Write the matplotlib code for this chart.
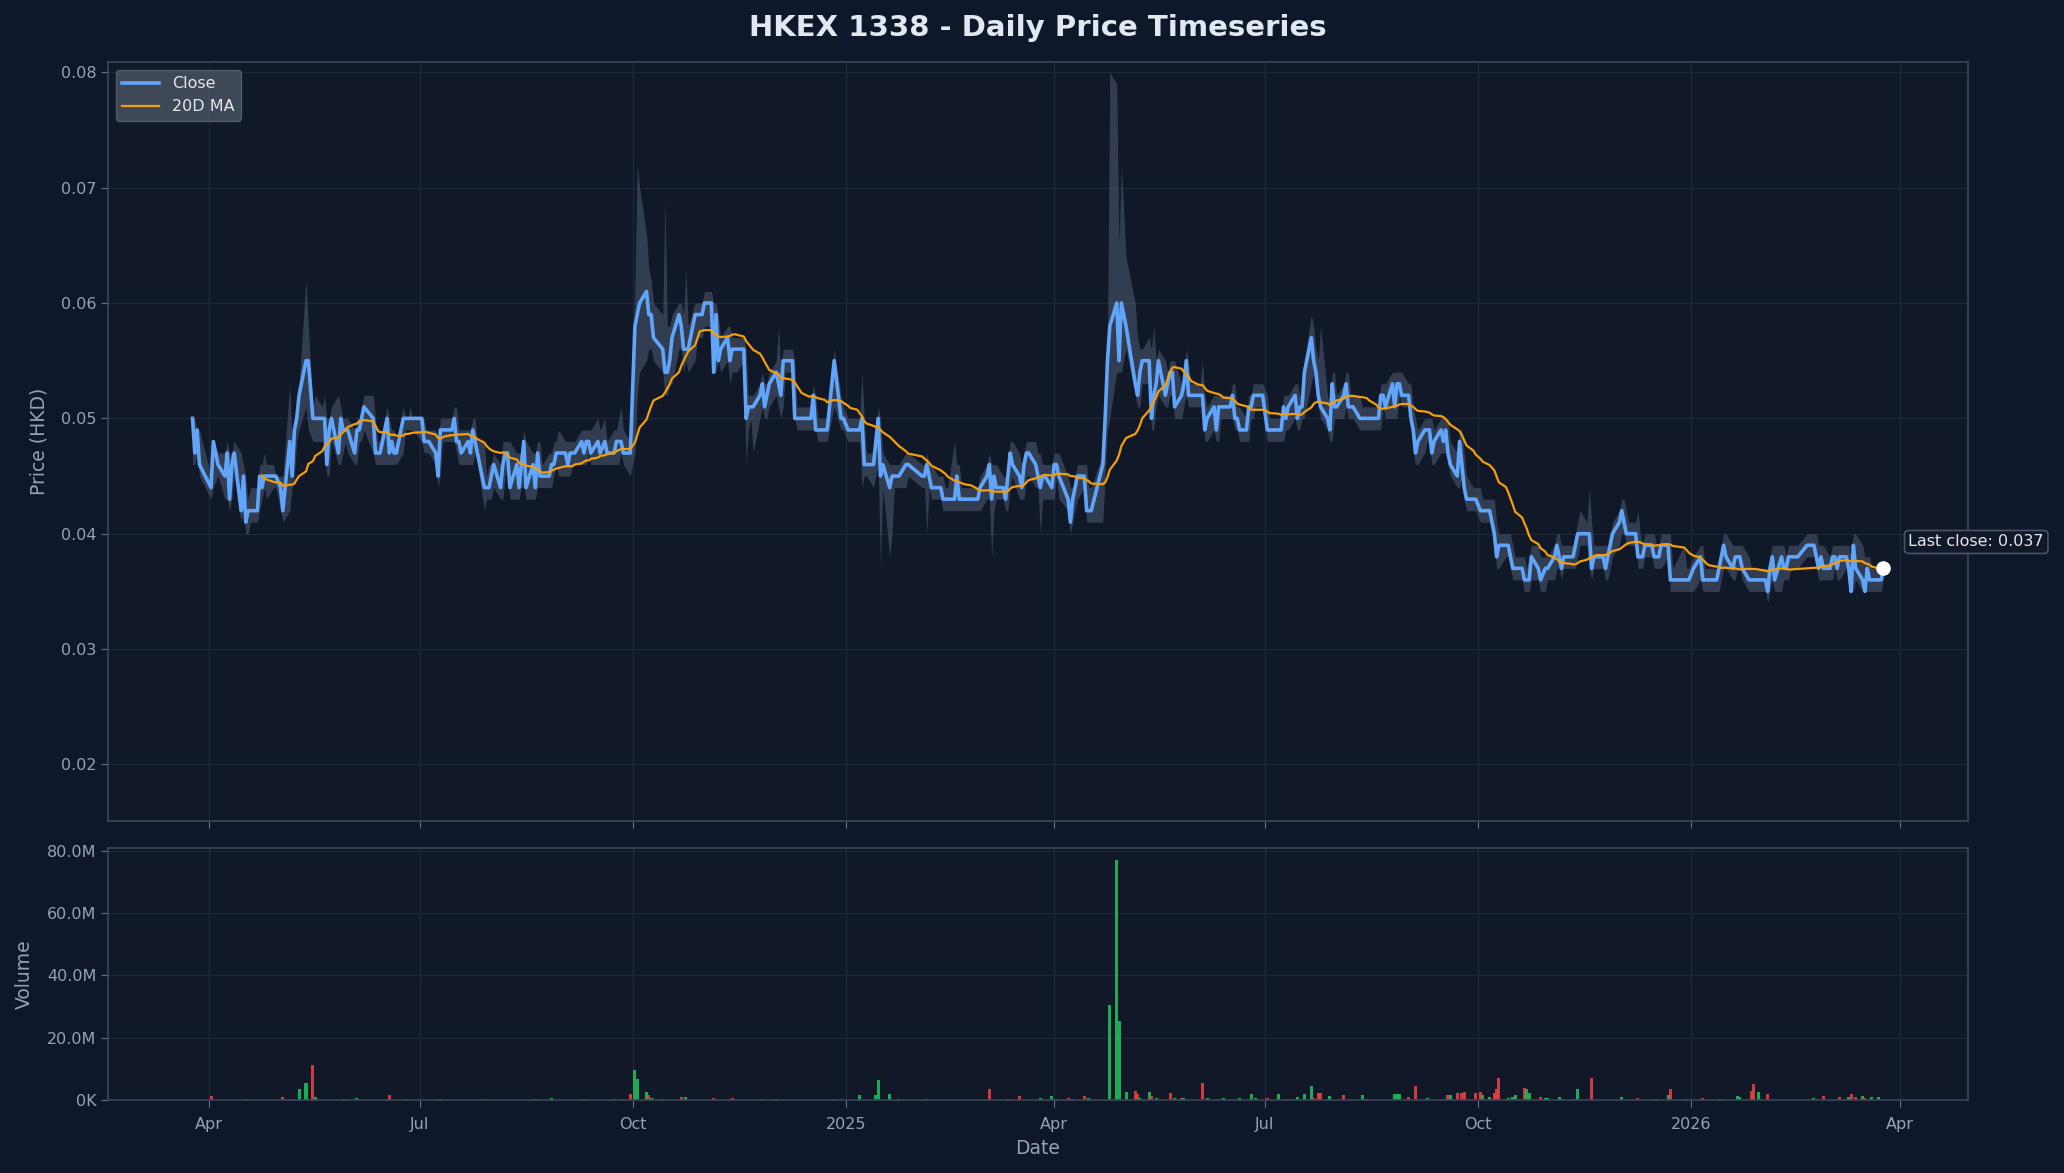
import numpy as np
import pandas as pd
import matplotlib
matplotlib.use("Agg")
import matplotlib.pyplot as plt
import matplotlib.dates as mdates
from matplotlib.ticker import FuncFormatter, MultipleLocator

# daily closes, highs and lows in 0.001 HKD, one per weekday from 2024-03-25
# (values on exchange holidays are dropped below)
close_milli = [
    50, 47, 49, 46, 45, 44, 44, 48, 46, 46,
    45, 47, 43, 46, 47, 42, 45, 41, 42, 42,
    42, 45, 44, 45, 45, 45, 45, 45, 44, 42,
    48, 45, 49, 50, 52, 55, 55, 49, 50, 50,
    50, 50, 46, 49, 50, 47, 50, 49, 49, 49,
    47, 49, 49, 50, 51, 52, 50, 47, 47, 47,
    50, 47, 48, 47, 47, 50, 50, 50, 50, 50,
    50, 50, 48, 48, 48, 47, 45, 49, 49, 49,
    49, 50, 48, 48, 47, 48, 47, 49, 48, 47,
    44, 44, 44, 45, 46, 44, 46, 47, 47, 44,
    46, 44, 46, 48, 44, 46, 44, 47, 45, 45,
    45, 46, 46, 47, 47, 47, 46, 47, 47, 47,
    48, 47, 48, 48, 47, 48, 47, 49, 48, 47,
    47, 48, 48, 48, 47, 47, 47, 58, 59, 60,
    61, 59, 59, 57, 57, 56, 54, 54, 55, 57,
    59, 58, 56, 56, 56, 59, 59, 59, 59, 60,
    60, 54, 59, 55, 56, 57, 55, 56, 56, 56,
    56, 50, 51, 51, 51, 52, 53, 51, 52, 53,
    54, 53, 52, 55, 55, 55, 50, 50, 50, 50,
    50, 50, 52, 49, 49, 49, 49, 52, 55, 55,
    50, 50, 49, 49, 49, 49, 49, 50, 46, 46,
    46, 48, 50, 45, 46, 44, 45, 45, 45, 45,
    46, 46, 46, 46, 45, 45, 45, 46, 45, 44,
    44, 44, 43, 43, 43, 43, 45, 43, 43, 43,
    43, 43, 43, 43, 44, 45, 46, 43, 45, 44,
    44, 43, 45, 47, 46, 45, 44, 46, 47, 47,
    46, 45, 44, 45, 45, 44, 46, 46, 45, 44,
    43, 41, 43, 44, 45, 45, 42, 42, 42, 43,
    43, 46, 50, 55, 58, 60, 55, 60, 60, 58,
    55, 53, 52, 54, 55, 55, 50, 52, 53, 55,
    52, 53, 54, 54, 51, 52, 53, 55, 52, 52,
    52, 52, 52, 49, 50, 51, 49, 51, 51, 51,
    51, 52, 50, 50, 49, 49, 51, 51, 52, 52,
    52, 51, 49, 49, 49, 49, 49, 51, 50, 51,
    52, 50, 51, 51, 54, 57, 55, 54, 52, 51,
    50, 49, 53, 51, 51, 52, 53, 51, 51, 51,
    50, 50, 50, 50, 50, 50, 50, 52, 52, 51,
    53, 51, 53, 53, 52, 52, 50, 49, 47, 48,
    49, 49, 49, 47, 48, 49, 48, 49, 47, 46,
    45, 48, 46, 44, 43, 43, 43, 43, 42, 42,
    42, 42, 40, 38, 39, 39, 39, 38, 37, 37,
    37, 36, 36, 36, 38, 37, 36, 36, 37, 37,
    38, 39, 38, 37, 38, 38, 38, 39, 40, 40,
    40, 40, 37, 38, 38, 38, 37, 38, 39, 40,
    41, 42, 41, 40, 40, 40, 38, 38, 38, 39,
    39, 38, 38, 38, 39, 39, 36, 36, 37, 38,
    36, 36, 36, 36, 37, 38, 36, 36, 36, 36,
    36, 37, 38, 39, 38, 37, 38, 38, 38, 37,
    36, 36, 36, 36, 36, 36, 35, 37, 38, 36,
    38, 37, 37, 38, 38, 38, 38, 39, 39, 39,
    39, 38, 37, 38, 37, 37, 38, 38, 37, 38,
    38, 37, 35, 39, 37, 36, 35, 37, 36, 36,
    36, 36, 37,
]

high_milli = [
    50, 50, 49, 49, 46, 45, 45, 48, 48, 47,
    47, 48, 47, 47, 48, 47, 46, 45, 43, 44,
    44, 46, 46, 47, 46, 46, 45, 46, 45, 45,
    53, 48, 50, 51, 53, 62, 58, 55, 51, 52,
    51, 52, 50, 50, 51, 52, 51, 50, 50, 50,
    49, 50, 50, 51, 52, 53, 52, 50, 48, 48,
    51, 50, 49, 49, 48, 51, 50, 50, 51, 50,
    51, 50, 50, 49, 49, 49, 48, 50, 50, 50,
    50, 51, 51, 49, 49, 49, 49, 50, 50, 48,
    48, 45, 46, 46, 47, 46, 48, 48, 48, 48,
    47, 47, 47, 49, 48, 47, 47, 48, 48, 46,
    47, 47, 48, 48, 49, 48, 48, 48, 48, 48,
    49, 49, 49, 49, 49, 50, 49, 50, 50, 48,
    49, 49, 50, 51, 49, 48, 49, 62, 72, 70,
    66, 63, 62, 60, 59, 59, 69, 58, 58, 59,
    60, 60, 59, 63, 58, 60, 60, 60, 60, 61,
    61, 60, 60, 59, 57, 58, 58, 57, 57, 57,
    57, 56, 52, 52, 52, 53, 54, 53, 53, 54,
    55, 58, 54, 56, 56, 56, 55, 51, 51, 51,
    51, 51, 53, 52, 50, 50, 50, 53, 56, 56,
    52, 51, 50, 50, 50, 50, 50, 54, 50, 47,
    47, 49, 51, 50, 47, 46, 46, 46, 46, 46,
    47, 47, 47, 47, 47, 46, 46, 47, 46, 46,
    45, 45, 45, 44, 44, 48, 46, 46, 44, 44,
    44, 44, 44, 44, 45, 46, 47, 46, 46, 46,
    45, 45, 46, 48, 48, 47, 46, 47, 48, 48,
    48, 47, 47, 46, 46, 46, 47, 47, 47, 46,
    45, 44, 44, 45, 46, 46, 46, 44, 44, 46,
    45, 47, 51, 57, 80, 79, 65, 72, 66, 64,
    62, 60, 57, 56, 56, 57, 56, 58, 55, 56,
    55, 54, 55, 55, 55, 53, 54, 56, 55, 53,
    53, 53, 55, 52, 51, 52, 52, 52, 52, 52,
    52, 53, 53, 51, 51, 50, 52, 52, 53, 53,
    53, 53, 52, 50, 50, 50, 50, 52, 52, 52,
    53, 53, 52, 52, 55, 59, 58, 56, 55, 58,
    52, 51, 54, 54, 52, 53, 54, 54, 52, 52,
    52, 51, 51, 51, 51, 51, 51, 53, 53, 53,
    54, 54, 54, 54, 54, 53, 53, 51, 50, 49,
    50, 50, 50, 50, 49, 50, 50, 50, 50, 48,
    47, 49, 49, 47, 45, 44, 44, 44, 44, 43,
    43, 43, 43, 41, 40, 40, 40, 40, 39, 38,
    38, 38, 37, 38, 39, 39, 38, 37, 38, 38,
    39, 40, 40, 39, 39, 39, 39, 40, 41, 42,
    41, 44, 41, 39, 39, 39, 39, 39, 40, 41,
    42, 43, 43, 42, 41, 41, 42, 40, 39, 40,
    40, 40, 39, 39, 40, 40, 40, 37, 38, 39,
    39, 37, 37, 37, 38, 39, 39, 37, 37, 37,
    37, 38, 39, 40, 40, 39, 39, 39, 39, 39,
    38, 37, 37, 37, 37, 37, 37, 38, 39, 39,
    39, 39, 38, 39, 39, 39, 39, 40, 40, 40,
    40, 40, 39, 39, 39, 38, 39, 39, 39, 39,
    39, 39, 38, 40, 40, 39, 38, 38, 38, 37,
    37, 37, 38,
]

low_milli = [
    46, 46, 47, 45, 44, 43, 43, 44, 45, 45,
    43, 43, 42, 43, 45, 41, 42, 40, 40, 41,
    41, 42, 43, 44, 43, 44, 44, 44, 42, 41,
    42, 44, 45, 48, 49, 51, 49, 48, 48, 48,
    48, 47, 45, 45, 48, 46, 46, 47, 48, 47,
    46, 46, 48, 48, 49, 50, 47, 46, 46, 46,
    46, 46, 46, 46, 46, 47, 49, 49, 49, 49,
    49, 48, 47, 47, 47, 46, 44, 45, 48, 48,
    48, 48, 47, 46, 46, 46, 46, 46, 47, 46,
    42, 43, 43, 43, 44, 43, 43, 45, 46, 43,
    43, 43, 44, 44, 43, 43, 43, 44, 44, 44,
    44, 44, 45, 46, 45, 45, 45, 45, 46, 46,
    46, 46, 46, 47, 46, 46, 46, 46, 46, 46,
    46, 46, 46, 47, 46, 45, 46, 47, 52, 54,
    55, 56, 56, 55, 55, 54, 52, 52, 53, 53,
    56, 56, 54, 55, 54, 55, 57, 57, 57, 58,
    58, 54, 54, 55, 54, 55, 53, 54, 54, 54,
    55, 46, 49, 50, 47, 50, 51, 50, 50, 51,
    52, 51, 50, 51, 54, 54, 50, 49, 49, 49,
    49, 49, 49, 49, 48, 48, 48, 48, 51, 51,
    49, 49, 48, 48, 48, 48, 48, 44, 45, 45,
    44, 45, 46, 37, 44, 38, 40, 44, 44, 44,
    44, 45, 45, 44, 44, 44, 44, 40, 44, 43,
    43, 43, 42, 42, 42, 42, 42, 42, 42, 42,
    42, 42, 42, 42, 42, 43, 43, 38, 42, 43,
    43, 42, 42, 44, 45, 43, 43, 43, 45, 45,
    44, 44, 40, 43, 43, 43, 43, 45, 43, 42,
    42, 40, 41, 42, 43, 44, 41, 41, 41, 42,
    42, 41, 45, 49, 50, 54, 54, 54, 56, 56,
    54, 52, 51, 51, 53, 53, 49, 49, 51, 52,
    51, 51, 52, 52, 50, 50, 51, 52, 51, 51,
    51, 51, 51, 48, 48, 49, 48, 48, 50, 50,
    50, 50, 49, 49, 48, 48, 48, 50, 50, 51,
    51, 50, 48, 48, 48, 48, 48, 48, 49, 49,
    50, 49, 49, 50, 50, 53, 54, 52, 51, 50,
    49, 48, 48, 50, 50, 50, 51, 50, 50, 50,
    49, 49, 49, 49, 49, 49, 49, 49, 51, 50,
    50, 50, 50, 52, 51, 51, 49, 47, 46, 46,
    47, 48, 48, 46, 46, 47, 47, 47, 46, 45,
    44, 44, 45, 43, 42, 42, 42, 42, 41, 41,
    41, 40, 39, 37, 37, 38, 38, 37, 36, 36,
    36, 35, 35, 35, 36, 36, 35, 35, 35, 36,
    36, 37, 37, 36, 37, 37, 37, 37, 38, 39,
    39, 37, 36, 37, 37, 37, 36, 36, 37, 38,
    39, 40, 40, 39, 39, 39, 37, 37, 37, 38,
    38, 37, 37, 37, 37, 38, 35, 35, 35, 36,
    35, 35, 35, 35, 35, 36, 35, 35, 35, 35,
    35, 35, 36, 37, 37, 36, 36, 37, 37, 36,
    35, 35, 35, 35, 35, 35, 34, 35, 36, 35,
    35, 36, 36, 36, 37, 37, 37, 37, 38, 38,
    38, 37, 36, 36, 36, 36, 36, 37, 36, 36,
    37, 36, 35, 35, 36, 35, 35, 35, 35, 35,
    35, 35, 36,
]

# HKEX weekday holidays inside the range
hk_holidays = [
    "2024-03-29", "2024-04-01", "2024-04-04", "2024-05-01", "2024-05-15",
    "2024-06-10", "2024-07-01", "2024-09-18", "2024-10-01", "2024-10-11",
    "2024-12-25", "2024-12-26", "2025-01-01", "2025-01-29", "2025-01-30",
    "2025-01-31", "2025-04-04", "2025-04-18", "2025-04-21", "2025-05-01",
    "2025-05-05", "2025-07-01", "2025-10-01", "2025-10-07", "2025-10-29",
    "2025-12-25", "2025-12-26", "2026-01-01", "2026-02-17", "2026-02-18",
    "2026-02-19",
]

# traded volume (millions of shares) on days with visible bars; 1 = up day
vol_day = [6, 17, 29, 30, 32, 34, 35, 36, 38, 39, 47, 51, 60, 61, 66, 77, 90,
           105, 106, 111, 121, 130, 133, 135, 137, 138, 140, 141, 142, 145,
           151, 153, 161, 166, 167, 176, 180, 199, 206, 211, 212, 215, 219,
           227, 246, 252, 255, 262, 265, 267, 270, 271, 272, 275, 277, 284,
           285, 286, 289, 291, 292, 293, 295, 296, 298, 302, 304, 305, 306,
           312, 314, 317, 319, 320, 324, 327, 329, 332, 335, 339, 341, 344,
           345, 346, 347, 348, 349, 351, 355, 361, 363, 371, 372, 373, 375,
           378, 381, 387, 388, 389, 390, 392, 393, 396, 399, 398, 400, 402,
           403, 404, 406, 408, 409, 411, 412, 413, 416, 418, 419, 422, 423,
           426, 428, 432, 441, 446, 452, 455, 456, 461, 466, 471, 477, 478,
           481, 482, 484, 486, 500, 501, 504, 509, 511, 512, 514, 515, 516,
           519, 520]
vol_m = [1.2, 0.2, 1.1, 0.3, 0.3, 3.7, 5.4, 0.3, 11.1, 1.1, 0.3, 0.5, 0.3, 1.5,
         0.2, 0.2, 0.3, 0.3, 0.3, 0.5, 0.3, 0.3, 0.3, 1.8, 9.5, 6.6, 2.7, 1.6,
         0.6, 0.2, 1.1, 1.1, 0.6, 0.3, 0.7, 0.4, 0.4, 0.3, 1.6, 1.6, 6.4, 1.9,
         0.3, 0.3, 3.5, 0.3, 1.3, 0.6, 1.3, 0.4, 0.5, 0.3, 0.3, 1.3, 0.6, 30.5,
         77.0, 25.5, 2.5, 3.0, 1.8, 0.5, 2.6, 1.2, 0.6, 2.4, 0.5, 0.5, 0.5,
         5.5, 0.6, 0.4, 0.6, 0.3, 0.6, 1.9, 0.6, 0.5, 1.9, 0.4, 1.0, 1.9,
         4.5, 0.7, 0.3, 2.1, 2.1, 1.2, 1.5, 1.5, 0.3, 1.8, 1.8, 1.8, 1.0,
         4.4, 0.6, 0.3, 1.6, 1.6, 2.1, 2.1, 2.5, 2.4, 1.6, 2.7, 0.9, 2.4,
         3.4, 7.0, 0.6, 1.0, 1.6, 4.0, 3.6, 2.4, 1.0, 0.6, 0.6, 1.0, 0.3,
         0.3, 3.7, 7.0, 1.0, 0.5, 0.3, 1.6, 3.4, 0.3, 0.5, 0.3, 1.3, 1.0,
         2.8, 5.0, 2.7, 1.9, 0.5, 0.4, 1.3, 1.0, 1.0, 1.8, 1.0, 1.3, 0.5,
         1.0, 1.0]
vol_up = [0, 1, 0, 1, 1, 1, 1, 1, 0, 1, 1, 1, 1, 0, 1, 1, 0,
          1, 1, 1, 0, 1, 1, 0, 1, 1, 1, 0, 1, 0,
          0, 1, 0, 1, 0, 1, 1, 0, 1, 1, 1, 1, 1,
          1, 0, 1, 0, 1, 1, 1, 0, 0, 1, 0, 1, 1,
          1, 1, 1, 0, 0, 1, 1, 0, 1, 0, 1, 0, 1,
          0, 1, 1, 1, 0, 1, 1, 1, 0, 1, 0, 1, 1,
          1, 0, 1, 0, 0, 1, 0, 1, 1, 1, 1, 1, 0,
          0, 1, 1, 0, 1, 0, 0, 0, 0, 1, 0, 1, 0,
          0, 0, 1, 1, 1, 0, 1, 1, 0, 1, 1, 1, 0,
          1, 1, 0, 1, 0, 1, 1, 0, 0, 0, 1, 1, 1,
          0, 0, 1, 0, 1, 0, 0, 0, 1, 0, 0, 1, 0,
          1, 1]

BG = "#0f172a"
PANEL = "#111827"
GRID = "#1e293b"
SPINE = "#3b4658"
TXT = "#94a3b8"

weekdays = pd.bdate_range("2024-03-25", periods=len(close_milli))
open_day = ~weekdays.isin(pd.to_datetime(hk_holidays))
dates = weekdays[open_day]
close = np.array(close_milli)[open_day] / 1000
high = np.array(high_milli)[open_day] / 1000
low = np.array(low_milli)[open_day] / 1000
ma20 = pd.Series(close).rolling(20).mean()

fig = plt.figure(figsize=(20.64, 11.73), dpi=100, facecolor=BG)
ax = fig.add_axes([0.0523, 0.3001, 0.9012, 0.6471])
axv = fig.add_axes([0.0523, 0.0622, 0.9012, 0.2148], sharex=ax)

for a in (ax, axv):
    a.set_facecolor(PANEL)
    for s in a.spines.values():
        s.set_color(SPINE)
        s.set_linewidth(1.2)
    a.grid(True, color=GRID, linewidth=0.9)
    a.set_axisbelow(True)
    a.tick_params(colors="#64748b", labelcolor=TXT, labelsize=11.5, length=5)

ax.fill_between(dates, low, high, color="#5b6b85", alpha=0.45, linewidth=0)
ax.plot(dates, close, color="#60a5fa", linewidth=2.6, label="Close")
ax.plot(dates, ma20, color="#f59e0b", linewidth=1.6, label="20D MA")
ax.scatter([dates[-1]], [close[-1]], s=90, color="white", zorder=6)
ax.annotate("Last close: %.3f" % close[-1], xy=(dates[-1], close[-1]),
            xytext=(18, 19), textcoords="offset points", ha="left", va="center",
            fontsize=11.5, color="#e5e7eb",
            bbox=dict(boxstyle="round,pad=0.25", fc=PANEL, ec="#475569", lw=1.2))
ax.set_ylim(0.0151, 0.0809)
ax.yaxis.set_major_locator(MultipleLocator(0.01))
ax.set_ylabel("Price (HKD)", color=TXT, fontsize=13.5, labelpad=9)
ax.tick_params(labelbottom=False)
ax.legend(loc="upper left", fontsize=11.5, facecolor="#4b5563", handlelength=2.3,
          edgecolor="#5b6472", labelcolor="#e5e7eb", framealpha=0.8)

vol_open = ~weekdays[vol_day].isin(pd.to_datetime(hk_holidays))
bar_colors = np.array(["#22c55e" if u else "#ef4444" for u in vol_up])
axv.bar(weekdays[vol_day][vol_open], (np.array(vol_m) * 1e6)[vol_open], width=1.3,
        color=bar_colors[vol_open], alpha=0.85)
axv.yaxis.set_major_locator(MultipleLocator(20e6))
axv.yaxis.set_major_formatter(FuncFormatter(
    lambda v, p: "%.1fM" % (v / 1e6) if v >= 1e6 else "%.0fK" % (v / 1e3)))
axv.set_ylabel("Volume", color=TXT, fontsize=13.5, labelpad=9)
axv.set_xlabel("Date", color=TXT, fontsize=13.5, labelpad=5)
axv.tick_params(axis="x", pad=7)


def quarter_label(x, pos):
    d = mdates.num2date(x)
    return d.strftime("%Y") if d.month == 1 else d.strftime("%b")


axv.xaxis.set_major_locator(mdates.MonthLocator(bymonth=[1, 4, 7, 10]))
axv.xaxis.set_major_formatter(FuncFormatter(quarter_label))

fig.suptitle("HKEX 1338 - Daily Price Timeseries", x=0.5029, y=0.9765, va="center",
             fontsize=21, fontweight="bold", color="#e2e8f0")

fig.savefig("out.png", dpi=100, facecolor=BG)
